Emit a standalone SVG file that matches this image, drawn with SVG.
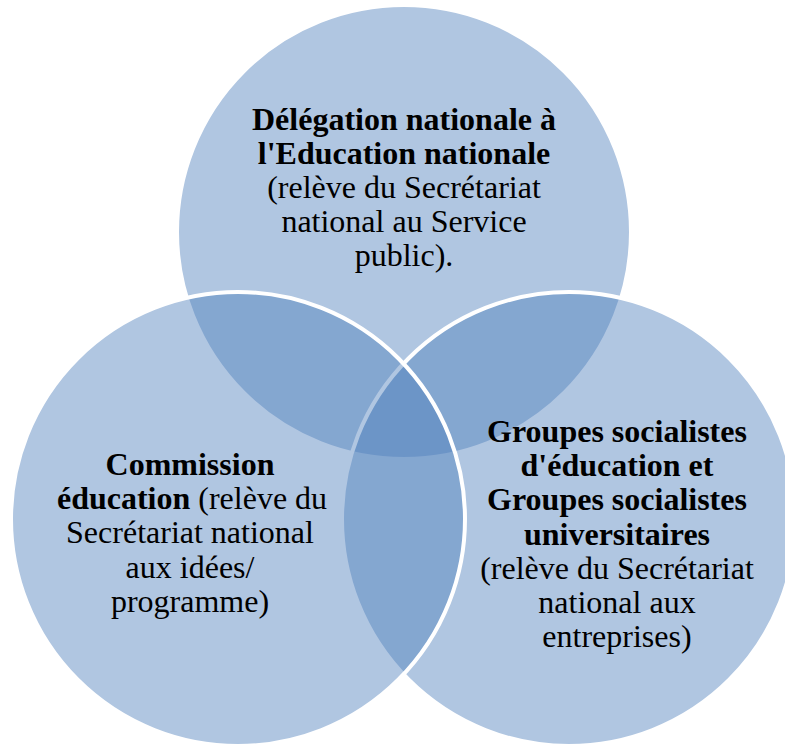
<svg xmlns="http://www.w3.org/2000/svg" width="785" height="744" viewBox="0 0 785 744">
<style>
.c{fill:#4F81BD;fill-opacity:0.45;stroke:#FFFFFF;stroke-width:4}
text{font-family:"Liberation Serif","Times New Roman",serif;font-size:32px;fill:#000000;text-anchor:middle}
.b{font-weight:bold}
</style>
<rect width="785" height="744" fill="#FFFFFF"/>
<g id="node-top">
<circle class="c" cx="404" cy="232" r="227"/>
<text x="404" y="130" class="b">Délégation nationale à</text>
<text x="404" y="164" class="b">l'Education nationale</text>
<text x="404" y="198">(relève du Secrétariat</text>
<text x="404" y="232">national au Service</text>
<text x="404" y="266">public).</text>
</g>
<g id="node-right">
<circle class="c" cx="569" cy="519" r="227"/>
<text x="617" y="442" class="b">Groupes socialistes</text>
<text x="617" y="476" class="b">d'éducation et</text>
<text x="617" y="510" class="b">Groupes socialistes</text>
<text x="617" y="545" class="b">universitaires</text>
<text x="617" y="579">(relève du Secrétariat</text>
<text x="617" y="613">national aux</text>
<text x="617" y="647">entreprises)</text>
</g>
<g id="node-left">
<circle class="c" cx="238" cy="519" r="227"/>
<text x="190" y="475" class="b">Commission</text>
<text x="192" y="509"><tspan class="b">éducation</tspan> (relève du</text>
<text x="190" y="543">Secrétariat national</text>
<text x="190" y="578">aux idées/</text>
<text x="190" y="612">programme)</text>
</g>
<g id="connectors"></g>
</svg>
